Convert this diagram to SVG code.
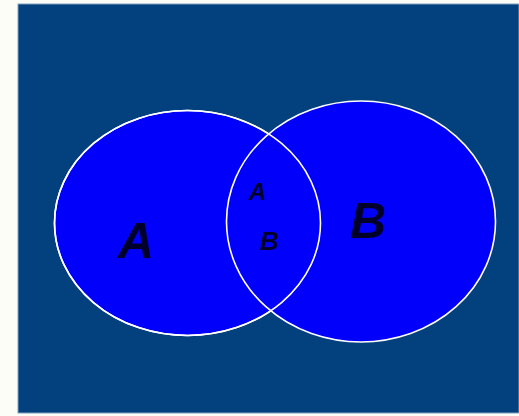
<svg xmlns="http://www.w3.org/2000/svg" width="519" height="416" viewBox="0 0 519 416">
<style>
.set{fill:#0000fb;stroke:#ffffff;stroke-width:1.6}
.lbl{font-family:"Liberation Sans",Arial,sans-serif;font-style:italic;font-weight:bold;fill:#00002a}
</style>
<rect x="0" y="0" width="519" height="416" fill="#fdfdf8"/>
<rect x="18" y="4" width="501" height="409" fill="#02417d" stroke="#7fa0c0" stroke-width="1"/>
<g id="setA"><ellipse class="set" cx="187.5" cy="223" rx="133" ry="112.5"/></g>
<g id="setB"><ellipse class="set" cx="361" cy="221.5" rx="134.5" ry="120.5"/></g>
<g id="outlineA"><ellipse cx="187.5" cy="223" rx="133" ry="112.5" fill="none" stroke="#ffffff" stroke-width="1.6"/></g>
<g id="connectors"></g>
<g id="labels">
<text class="lbl" x="118" y="258" font-size="50">A</text>
<text class="lbl" x="350" y="238" font-size="50">B</text>
<text class="lbl" x="249" y="200" font-size="24">A</text>
<text class="lbl" x="260" y="250" font-size="26">B</text>
</g>
</svg>
